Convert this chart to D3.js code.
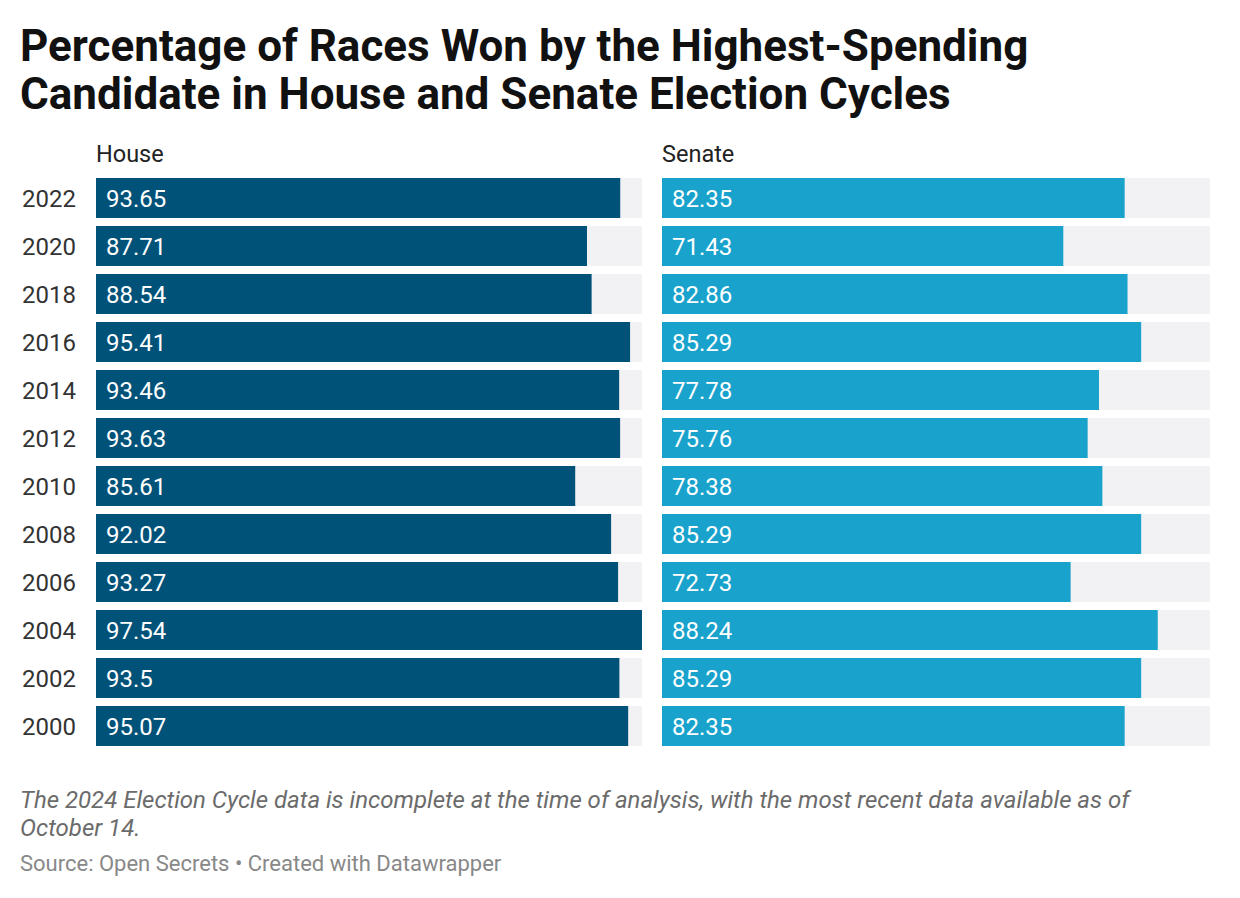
<!DOCTYPE html>
<html>
<head>
<meta charset="utf-8">
<script src="https://cdn.jsdelivr.net/npm/d3@7"></script>
<style>
  body { margin: 0; background: #fff; font-family: Roboto, sans-serif; }
</style>
</head>
<body>
<div id="chart"></div>
<script>
const years = ['2022', '2020', '2018', '2016', '2014', '2012', '2010', '2008', '2006', '2004', '2002', '2000'];
const houseValues = [93.65, 87.71, 88.54, 95.41, 93.46, 93.63, 85.61, 92.02, 93.27, 97.54, 93.5, 95.07];
const senateValues = [82.35, 71.43, 82.86, 85.29, 77.78, 75.76, 78.38, 85.29, 72.73, 88.24, 85.29, 82.35];
const panelTitles = ['House', 'Senate'];

const width = 1240, height = 898;
const svg = d3.select('#chart').append('svg')
    .attr('width', width)
    .attr('height', height);

// Title
const title = svg.append('text')
    .attr('x', 20)
    .attr('font-size', '44px')
    .attr('font-weight', 700)
    .attr('fill', '#111');
title.append('tspan').attr('x', 20).attr('y', 61)
    .text('Percentage of Races Won by the Highest-Spending');
title.append('tspan').attr('x', 20).attr('y', 109)
    .text('Candidate in House and Senate Election Cycles');

// shared scales (48px per row, 8px gap)
const maxVal = d3.max(houseValues.concat(senateValues));
const y = d3.scaleBand()
    .domain(years)
    .range([178, 178 + 48 * years.length - 8])
    .paddingInner(8 / 48)
    .paddingOuter(0);

const panels = [
    {name: panelTitles[0], values: houseValues, x0: 96, x1: 642, color: '#005279'},
    {name: panelTitles[1], values: senateValues, x0: 662, x1: 1210, color: '#19a2cc'}
];

// Year labels
svg.append('g')
    .selectAll('text')
    .data(years)
    .enter()
    .append('text')
    .attr('x', 22)
    .attr('y', d => y(d) + y.bandwidth() / 2)
    .attr('dy', '0.36em')
    .attr('font-size', '24px')
    .attr('fill', '#333')
    .text(d => d);

panels.forEach(p => {
    const x = d3.scaleLinear()
        .domain([0, maxVal])
        .range([p.x0, p.x1]);

    const g = svg.append('g');

    g.append('text')
        .attr('x', p.x0)
        .attr('y', 162)
        .attr('font-size', '23.5px')
        .attr('fill', '#222')
        .text(p.name);

    // background bars
    g.selectAll('.bg')
        .data(years)
        .enter()
        .append('rect')
        .attr('class', 'bg')
        .attr('x', x(0))
        .attr('y', d => y(d))
        .attr('width', x(maxVal) - x(0))
        .attr('height', y.bandwidth())
        .attr('fill', '#f2f2f4');

    // value bars
    g.selectAll('.bar')
        .data(p.values)
        .enter()
        .append('rect')
        .attr('class', 'bar')
        .attr('x', x(0))
        .attr('y', (d, i) => y(years[i]))
        .attr('width', d => x(d) - x(0))
        .attr('height', y.bandwidth())
        .attr('fill', p.color);

    g.selectAll('.val')
        .data(p.values)
        .enter()
        .append('text')
        .attr('class', 'val')
        .attr('x', x(0) + 10)
        .attr('y', (d, i) => y(years[i]) + y.bandwidth() / 2)
        .attr('dy', '0.36em')
        .attr('font-size', '24px')
        .attr('fill', '#fff')
        .text(d => d);
});

// Notes
const note = svg.append('text')
    .attr('font-size', '24px')
    .attr('font-style', 'italic')
    .attr('fill', '#6b6b6b');
note.append('tspan').attr('x', 20).attr('y', 808)
    .text('The 2024 Election Cycle data is incomplete at the time of analysis, with the most recent data available as of');
note.append('tspan').attr('x', 20).attr('y', 836)
    .text('October 14.');

svg.append('text')
    .attr('x', 20)
    .attr('y', 871)
    .attr('font-size', '22px')
    .attr('fill', '#888')
    .text('Source: Open Secrets • Created with Datawrapper');
</script>
</body>
</html>
